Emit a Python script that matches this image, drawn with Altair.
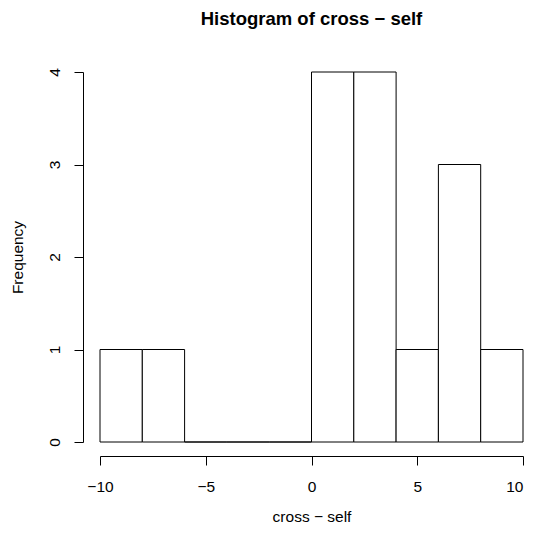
import altair as alt
import pandas as pd

bin_start = [-10, -8, -6, -4, -2, 0, 2, 4, 6, 8]
bin_end = [-8, -6, -4, -2, 0, 2, 4, 6, 8, 10]
counts = [1, 1, 0, 0, 0, 4, 4, 1, 3, 1]
x_ticks = [-10, -5, 0, 5, 10]
y_ticks = [0, 1, 2, 3, 4]

df = pd.DataFrame({"start": bin_start, "end": bin_end, "count": counts})

FONT = "Liberation Sans"
LS = 15.5

chart = alt.Chart(df).mark_rect(fill="white", stroke="black", strokeWidth=1).encode(
    x=alt.X(
        "start:Q",
        scale=alt.Scale(domain=[-10, 10], nice=False, zero=False),
        axis=alt.Axis(
            values=x_ticks, title="cross − self", offset=14, tickSize=9,
            labelPadding=26.5, labelBaseline="alphabetic", labelFontSize=LS,
            labelAlign=alt.expr("datum.value == 10 ? 'right' : 'center'"),
            labelFont=FONT, titleFont=FONT, titleFontSize=LS,
            titleFontWeight="normal", titleY=65.5, titleBaseline="alphabetic",
            grid=False, domainColor="black", tickColor="black",
            labelColor="black", titleColor="black", labelFlush=False,
            labelOverlap=False,
        ),
    ),
    x2="end:Q",
    y=alt.Y(
        "count:Q",
        scale=alt.Scale(domain=[0, 4], nice=False, zero=True),
        axis=alt.Axis(
            values=y_ticks, title="Frequency", offset=17, tickSize=9,
            labelAngle=270, labelAlign="center", labelBaseline="alphabetic",
            labelPadding=14.3, labelFontSize=LS, labelFont=FONT,
            titleFont=FONT, titleFontSize=LS, titleFontWeight="normal",
            titleX=-61, titleY=185, titleAngle=270, titleAlign="center",
            titleBaseline="alphabetic", grid=False, domainColor="black",
            tickColor="black", labelColor="black", titleColor="black",
            labelFlush=False, labelOverlap=False,
        ),
    ),
    y2=alt.datum(0),
).properties(
    width=423,
    height=370,
    title=alt.Title(
        "Histogram of cross − self", font=FONT, fontSize=18.5,
        fontWeight="bold", anchor="middle", frame="group", offset=24.5,
        baseline="alphabetic", color="black",
    ),
    autosize=alt.AutoSizeParams(type="none"),
    padding={"left": 92, "top": 64, "right": 2, "bottom": 83},
).configure(background="white", view=alt.ViewConfig(stroke=None))

chart.save("out.html", embed_options={"renderer": "svg", "actions": False})
